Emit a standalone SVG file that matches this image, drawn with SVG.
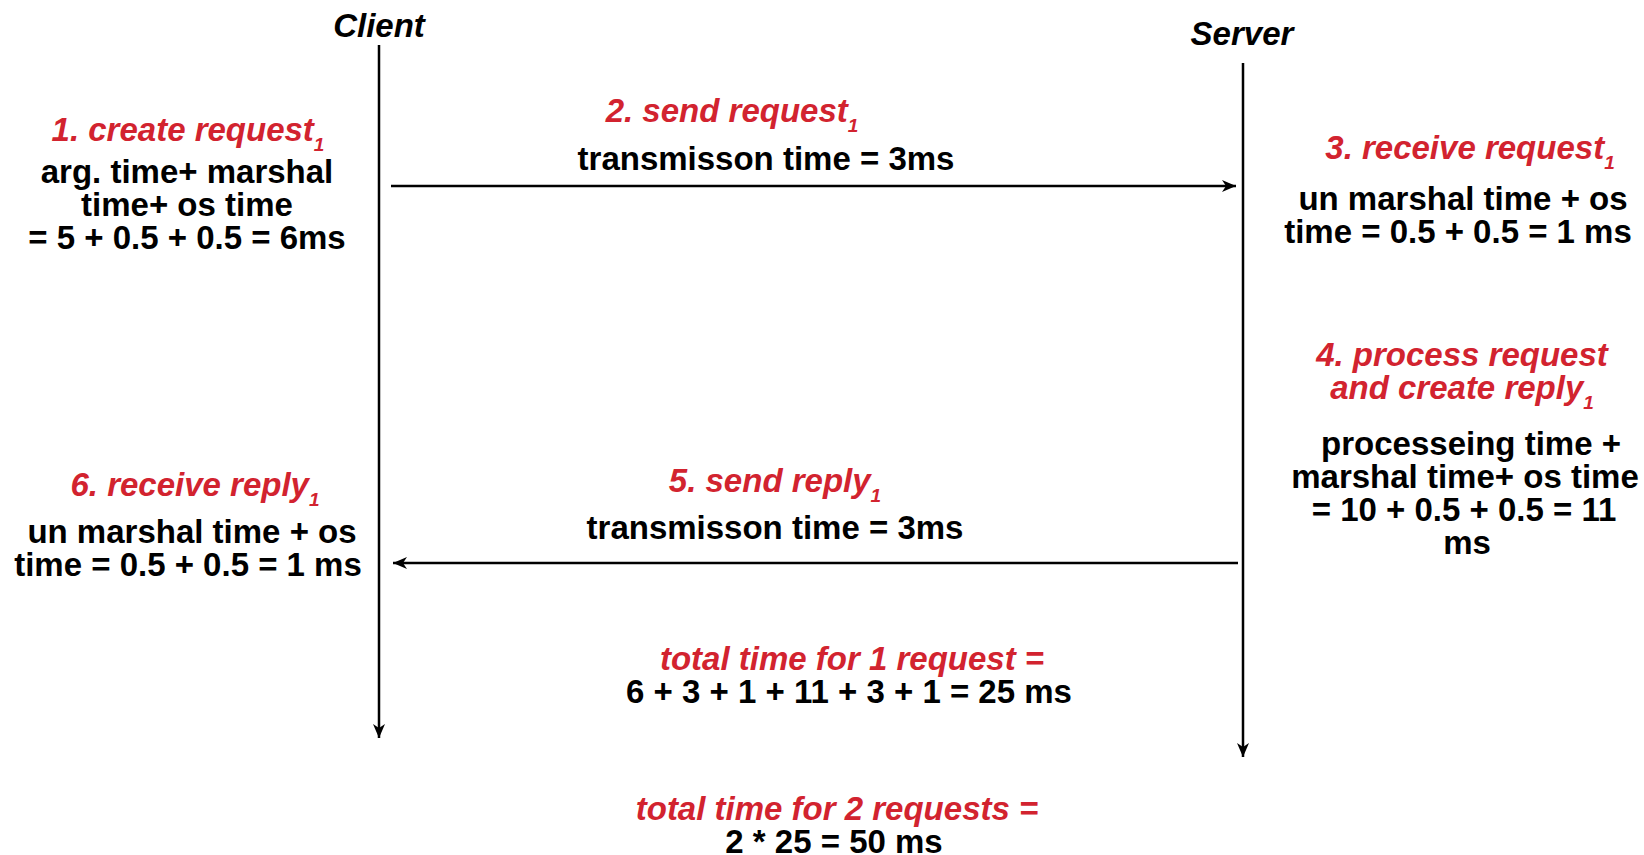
<svg xmlns="http://www.w3.org/2000/svg" width="1644" height="855" viewBox="0 0 1644 855">
<style>
text{font-family:"Liberation Sans",Arial,Helvetica,sans-serif;font-weight:bold;font-size:33px;text-anchor:middle;fill:#000}
.r{fill:#d2232f;font-style:italic}
.h{font-style:italic;fill:#000}
.sub{font-size:19px}
.ln{stroke:#000;stroke-width:2.5;fill:none}
</style>
<defs>
<marker id="ah" markerUnits="userSpaceOnUse" markerWidth="16" markerHeight="14" refX="14" refY="6" orient="auto">
<path d="M0,0 L14,6 L0,12 L4,6 Z" fill="#000"/>
</marker>
</defs>
<rect width="1644" height="855" fill="#fff"/>
<g id="client">
<text class="h" x="379" y="37">Client</text>
</g>
<g id="server">
<text class="h" x="1242" y="45">Server</text>
</g>
<g id="connectors">
<line class="ln" x1="379" y1="45" x2="379" y2="738" marker-end="url(#ah)"/>
<line class="ln" x1="1243" y1="63" x2="1243" y2="757" marker-end="url(#ah)"/>
<line class="ln" x1="391" y1="186" x2="1236" y2="186" marker-end="url(#ah)"/>
<line class="ln" x1="1238" y1="563" x2="393" y2="563" marker-end="url(#ah)"/>
</g>
<g id="step1">
<text class="r" x="188" y="141">1. create request<tspan class="sub" dy="10">1</tspan></text>
<text x="187" y="183">arg. time+ marshal</text>
<text x="187" y="216">time+ os time</text>
<text x="187" y="249">= 5 + 0.5 + 0.5 = 6ms</text>
</g>
<g id="step2">
<text class="r" x="732" y="122">2. send request<tspan class="sub" dy="10">1</tspan></text>
<text x="766" y="170">transmisson time = 3ms</text>
</g>
<g id="step3">
<text class="r" x="1470" y="159">3. receive request<tspan class="sub" dy="10">1</tspan></text>
<text x="1463" y="210">un marshal time + os</text>
<text x="1458" y="243">time = 0.5 + 0.5 = 1 ms</text>
</g>
<g id="step4">
<text class="r" x="1462" y="366">4. process request</text>
<text class="r" x="1462" y="399">and create reply<tspan class="sub" dy="10">1</tspan></text>
<text x="1471" y="455">processeing time +</text>
<text x="1465" y="488">marshal time+ os time</text>
<text x="1464" y="521">= 10 + 0.5 + 0.5 = 11</text>
<text x="1467" y="554">ms</text>
</g>
<g id="step5">
<text class="r" x="775" y="492">5. send reply<tspan class="sub" dy="10">1</tspan></text>
<text x="775" y="539">transmisson time = 3ms</text>
</g>
<g id="step6">
<text class="r" x="195" y="496">6. receive reply<tspan class="sub" dy="10">1</tspan></text>
<text x="192" y="543">un marshal time + os</text>
<text x="188" y="576">time = 0.5 + 0.5 = 1 ms</text>
</g>
<g id="totals">
<text class="r" x="852" y="670">total time for 1 request =</text>
<text x="849" y="703">6 + 3 + 1 + 11 + 3 + 1 = 25 ms</text>
<text class="r" x="837" y="820">total time for 2 requests =</text>
<text x="834" y="853">2 * 25 = 50 ms</text>
</g>
</svg>
